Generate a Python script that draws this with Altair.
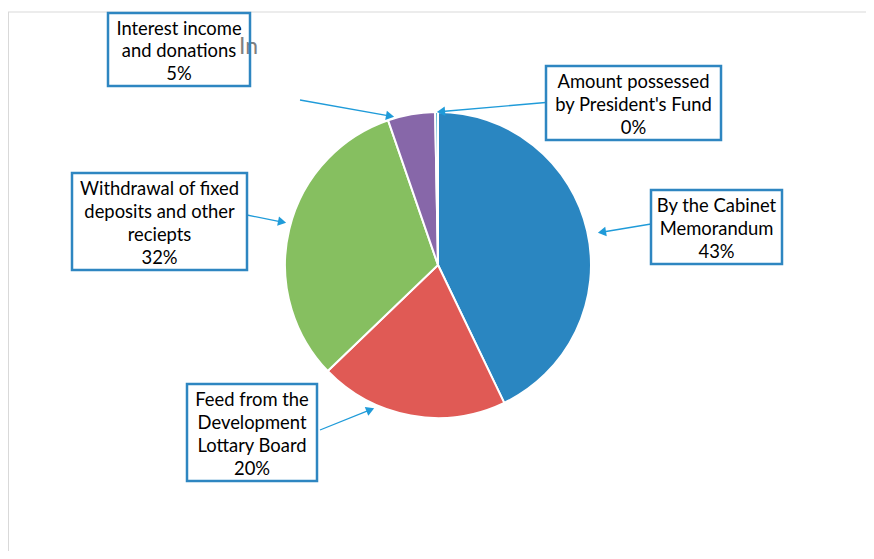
import math
import altair as alt
import pandas as pd

# ---- data ----
categories = [
    "By the Cabinet Memorandum",
    "Feed from the Development Lottary Board",
    "Withdrawal of fixed deposits and other reciepts",
    "Interest income and donations",
    "Amount possessed by President's Fund",
]
values = [43, 20, 32, 5, 0.3]
pct_labels = ["43%", "20%", "32%", "5%", "0%"]
label_lines = [
    ["By the Cabinet", "Memorandum"],
    ["Feed from the", "Development", "Lottary Board"],
    ["Withdrawal of fixed", "deposits and other", "reciepts"],
    ["Interest income", "and donations"],
    ["Amount possessed", "by President's Fund"],
]
colors = ["#2A86C1", "#E05A55", "#86BF60", "#8767A9", "#4BACC6"]

# ---- layout (chart pixel space, y downward) ----
W, H = 858, 543
CX, CY, R = 430, 257, 153
LH = 22.7
boxes = [  # x, x2, y, y2
    (643, 774, 182, 256),
    (179, 309, 376, 473),
    (64, 239, 165, 262),
    (100, 242, 5, 78),
    (538, 713, 58, 132),
]
arrows = [  # start (x, y) -> tip (x, y)
    (643, 216, 589, 225),
    (312, 422, 367, 400),
    (239, 207, 279, 215),
    (292, 92, 387, 109),
    (555, 93, 428, 104),
]
box_color = "#2E86C1"
arrow_color = "#1F9BD9"
font = "Lato"

pie_df = pd.DataFrame({
    "category": categories,
    "value": values,
    "idx": list(range(len(categories))),
})

texts_all = [l + [p] for l, p in zip(label_lines, pct_labels)]
box_df = pd.DataFrame({
    "category": categories,
    "x": [b[0] for b in boxes], "x2": [b[1] for b in boxes],
    "y": [b[2] for b in boxes], "y2": [b[3] for b in boxes],
    "cx": [(b[0] + b[1]) / 2 for b in boxes],
    "ty": [(b[2] + b[3]) / 2 - (len(t) - 1) / 2 * LH + 2 for b, t in zip(boxes, texts_all)],
    "text": ["\n".join(t) for t in texts_all],
})

rule_rows, head_rows = [], []
for (x1, y1, x2, y2) in arrows:
    dx, dy = x2 - x1, y2 - y1
    L = math.hypot(dx, dy)
    ux, uy = dx / L, dy / L
    ang = math.degrees(math.atan2(dx, -dy)) % 360
    rule_rows.append({"x": x1, "y": y1, "x2": x2 - ux * 6, "y2": y2 - uy * 6})
    head_rows.append({"x": x2 - ux * 5, "y": y2 - uy * 5, "angle": ang})
rule_df = pd.DataFrame(rule_rows)
head_df = pd.DataFrame(head_rows)

xs = alt.Scale(domain=[0, W], nice=False, zero=False)
ys = alt.Scale(domain=[0, H], reverse=True, nice=False, zero=False)
noax = None

frame_df = pd.DataFrame({"x": [0, 0.5], "x2": [W, 0.5], "y": [4, 4], "y2": [4, H]})
frame = alt.Chart(frame_df).mark_rule(color="#D9D9D9", strokeWidth=1).encode(
    x=alt.X("x:Q", scale=xs, axis=noax), x2="x2:Q",
    y=alt.Y("y:Q", scale=ys, axis=noax), y2="y2:Q",
)

pie = alt.Chart(pie_df).mark_arc(radius=R, stroke="white", strokeWidth=2).encode(
    theta=alt.Theta("value:Q", stack=True),
    color=alt.Color("category:N", scale=alt.Scale(domain=categories, range=colors), legend=None),
    order=alt.Order("idx:Q"),
    x=alt.value(CX), y=alt.value(CY),
)

rules = alt.Chart(rule_df).mark_rule(color=arrow_color, strokeWidth=1.3).encode(
    x=alt.X("x:Q", scale=xs, axis=noax), x2="x2:Q",
    y=alt.Y("y:Q", scale=ys, axis=noax), y2="y2:Q",
)
heads = alt.Chart(head_df).mark_point(
    shape="triangle-up", filled=True, color=arrow_color, size=90, opacity=1
).encode(
    x=alt.X("x:Q", scale=xs, axis=noax),
    y=alt.Y("y:Q", scale=ys, axis=noax),
    angle=alt.Angle("angle:Q", scale=None),
)

rect_fill = alt.Chart(box_df).mark_rect(fill="white", strokeWidth=0).encode(
    x=alt.X("x:Q", scale=xs, axis=noax), x2="x2:Q",
    y=alt.Y("y:Q", scale=ys, axis=noax), y2="y2:Q",
)
rect_stroke = alt.Chart(box_df).mark_rect(
    fill="white", fillOpacity=0, stroke=box_color, strokeWidth=2.5
).encode(
    x=alt.X("x:Q", scale=xs, axis=noax), x2="x2:Q",
    y=alt.Y("y:Q", scale=ys, axis=noax), y2="y2:Q",
)
texts = alt.Chart(box_df).mark_text(
    font=font, fontSize=18.4, color="#000000", lineBreak="\n", lineHeight=LH,
    align="center", baseline="middle",
).encode(
    x=alt.X("cx:Q", scale=xs, axis=noax),
    y=alt.Y("ty:Q", scale=ys, axis=noax),
    text="text:N",
)

ghost = alt.Chart(pd.DataFrame({"x": [231], "y": [39], "t": ["In"]})).mark_text(
    font=font, fontSize=23, color="#7f7f7f", align="left", baseline="middle",
).encode(
    x=alt.X("x:Q", scale=xs, axis=noax),
    y=alt.Y("y:Q", scale=ys, axis=noax),
    text="t:N",
)

chart = alt.layer(frame, pie, rules, heads, rect_fill, ghost, rect_stroke, texts).properties(
    width=W, height=H, autosize=alt.AutoSizeParams(type="none"), padding=0,
).configure_view(stroke=None)

chart.save("out.html", embed_options={"renderer": "svg", "actions": False})
